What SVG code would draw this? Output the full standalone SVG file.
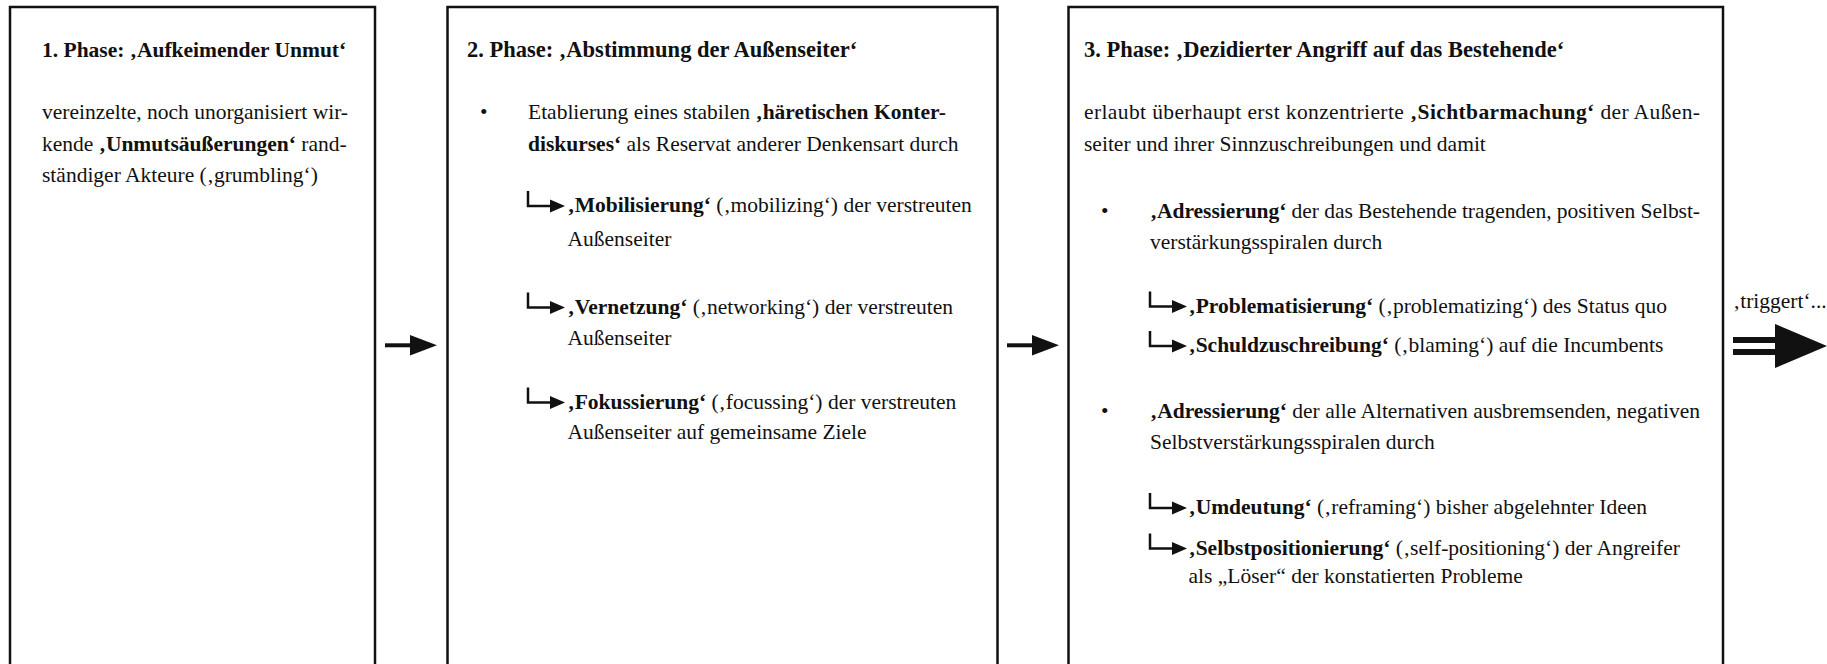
<svg xmlns="http://www.w3.org/2000/svg" xmlns:xlink="http://www.w3.org/1999/xlink" width="1827" height="664" viewBox="0 0 1827 664">
  <style>
    .box { fill: #ffffff; stroke: #111111; stroke-width: 2.5; }
    text { font-family: "Liberation Serif", "Times New Roman", serif; font-size: 21.5px; fill: #111111; }
    .b { font-weight: bold; }
    .title { font-weight: bold; font-size: 22.5px; }
    .hook-line { fill: none; stroke: #111111; stroke-width: 2.5; }
    .solid { fill: #111111; stroke: none; }
  </style>
  <defs>
    <!-- angled sub-item arrow: down-and-right stroke with a filled head -->
    <g id="hook">
      <path class="hook-line" d="M0,-15 V0 H24"/>
      <polygon class="solid" points="22,-6.5 37,0 22,6.5"/>
    </g>
  </defs>
  <rect width="1827" height="664" fill="#ffffff"/>

  <!-- Phase 1 -->
  <g id="phase1">
    <rect class="box" x="10" y="7" width="365" height="700"/>
    <text x="42" y="57" class="b">1. Phase: ‚Aufkeimender Unmut‘</text>
    <text x="42" y="119">vereinzelte, noch unorganisiert wir-</text>
    <text x="42" y="150.5">kende <tspan class="b">‚Unmutsäußerungen‘</tspan> rand-</text>
    <text x="42" y="182">ständiger Akteure (‚grumbling‘)</text>
  </g>

  <!-- Phase 2 -->
  <g id="phase2">
    <rect class="box" x="447.5" y="7" width="550" height="700"/>
    <text x="467" y="57" class="title">2. Phase: ‚Abstimmung der Außenseiter‘</text>
    <text x="480" y="119">•</text>
    <text x="528" y="119">Etablierung eines stabilen <tspan class="b">‚häretischen Konter-</tspan></text>
    <text x="528" y="150.5"><tspan class="b">diskurses‘</tspan> als Reservat anderer Denkensart durch</text>
    <use xlink:href="#hook" x="528" y="206"/>
    <text x="567.5" y="212"><tspan class="b">‚Mobilisierung‘</tspan> (‚mobilizing‘) der verstreuten</text>
    <text x="567.5" y="246">Außenseiter</text>
    <use xlink:href="#hook" x="528" y="307.5"/>
    <text x="567.5" y="313.5"><tspan class="b">‚Vernetzung‘</tspan> (‚networking‘) der verstreuten</text>
    <text x="567.5" y="345">Außenseiter</text>
    <use xlink:href="#hook" x="528" y="402.5"/>
    <text x="567.5" y="408.5"><tspan class="b">‚Fokussierung‘</tspan> (‚focussing‘) der verstreuten</text>
    <text x="567.5" y="439">Außenseiter auf gemeinsame Ziele</text>
  </g>

  <!-- Phase 3 -->
  <g id="phase3">
    <rect class="box" x="1068.5" y="7" width="654.5" height="700"/>
    <text x="1084" y="57" class="title">3. Phase: ‚Dezidierter Angriff auf das Bestehende‘</text>
    <text x="1084" y="119" textLength="616" lengthAdjust="spacing">erlaubt überhaupt erst konzentrierte <tspan class="b">‚Sichtbarmachung‘</tspan> der Außen-</text>
    <text x="1084" y="150.5">seiter und ihrer Sinnzuschreibungen und damit</text>
    <text x="1101" y="218">•</text>
    <text x="1150" y="218" textLength="550" lengthAdjust="spacing"><tspan class="b">‚Adressierung‘</tspan> der das Bestehende tragenden, positiven Selbst-</text>
    <text x="1150" y="249">verstärkungsspiralen durch</text>
    <use xlink:href="#hook" x="1150" y="306.5"/>
    <text x="1188.5" y="312.5"><tspan class="b">‚Problematisierung‘</tspan> (‚problematizing‘) des Status quo</text>
    <use xlink:href="#hook" x="1150" y="346"/>
    <text x="1188.5" y="352"><tspan class="b">‚Schuldzuschreibung‘</tspan> (‚blaming‘) auf die Incumbents</text>
    <text x="1101" y="417.5">•</text>
    <text x="1150" y="417.5" textLength="550" lengthAdjust="spacing"><tspan class="b">‚Adressierung‘</tspan> der alle Alternativen ausbremsenden, negativen</text>
    <text x="1150" y="449">Selbstverstärkungsspiralen durch</text>
    <use xlink:href="#hook" x="1150" y="508"/>
    <text x="1188.5" y="514"><tspan class="b">‚Umdeutung‘</tspan> (‚reframing‘) bisher abgelehnter Ideen</text>
    <use xlink:href="#hook" x="1150" y="548.5"/>
    <text x="1188.5" y="554.5"><tspan class="b">‚Selbstpositionierung‘</tspan> (‚self-positioning‘) der Angreifer</text>
    <text x="1188.5" y="583">als „Löser“ der konstatierten Probleme</text>
  </g>

  <!-- Connectors between phases and the outgoing trigger -->
  <g id="connectors">
    <rect class="solid" x="385" y="343.3" width="26" height="4"/>
    <polygon class="solid" points="410,335 437,345.3 410,355.6"/>
    <rect class="solid" x="1007" y="343.3" width="26" height="4"/>
    <polygon class="solid" points="1032,335 1059,345.3 1032,355.6"/>
    <text x="1733" y="308">‚triggert‘...</text>
    <rect class="solid" x="1733" y="337" width="44" height="6"/>
    <rect class="solid" x="1733" y="349" width="44" height="6"/>
    <polygon class="solid" points="1775,324 1827,346 1775,368"/>
  </g>
</svg>
